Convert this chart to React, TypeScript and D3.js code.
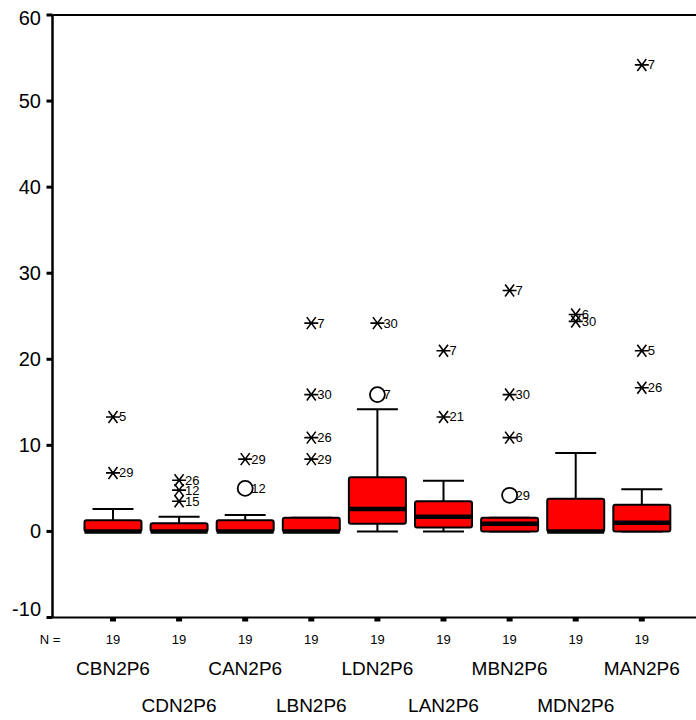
import React from 'react';
import * as d3 from 'd3';

// box statistics per variable
const categories = ['CBN2P6', 'CDN2P6', 'CAN2P6', 'LBN2P6', 'LDN2P6', 'LAN2P6', 'MBN2P6', 'MDN2P6', 'MAN2P6'];
const nValues = [19, 19, 19, 19, 19, 19, 19, 19, 19];
const whiskerLow = [0, 0, 0, 0, 0, 0, 0, 0, 0];
const q1 = [0, 0, 0, 0, 0.9, 0.45, 0, 0, 0];
const medians = [0, 0, 0, 0, 2.6, 1.7, 0.9, 0, 1.0];
const q3 = [1.3, 0.95, 1.3, 1.6, 6.3, 3.5, 1.6, 3.8, 3.1];
const whiskerHigh = [2.6, 1.7, 1.9, 1.6, 14.2, 5.9, 1.6, 9.1, 4.9];

// extreme values (star) : [variable, value, case id]
const extremes: [string, number, string][] = [
  ['CBN2P6', 13.3, '5'],
  ['CBN2P6', 6.8, '29'],
  ['CDN2P6', 5.95, '26'],
  ['CDN2P6', 4.8, '12'],
  ['CDN2P6', 3.5, '15'],
  ['CAN2P6', 8.4, '29'],
  ['LBN2P6', 24.2, '7'],
  ['LBN2P6', 15.9, '30'],
  ['LBN2P6', 10.9, '26'],
  ['LBN2P6', 8.4, '29'],
  ['LDN2P6', 24.2, '30'],
  ['LAN2P6', 21.0, '7'],
  ['LAN2P6', 13.3, '21'],
  ['MBN2P6', 28.0, '7'],
  ['MBN2P6', 15.9, '30'],
  ['MBN2P6', 10.9, '6'],
  ['MDN2P6', 25.2, '6'],
  ['MDN2P6', 24.4, '30'],
  ['MAN2P6', 54.2, '7'],
  ['MAN2P6', 21.0, '5'],
  ['MAN2P6', 16.7, '26'],
];

// outliers (circle)
const outliers: [string, number, string][] = [
  ['CAN2P6', 5.0, '12'],
  ['LDN2P6', 15.9, '7'],
  ['MBN2P6', 4.2, '29'],
];

const yTicks = [-10, 0, 10, 20, 30, 40, 50, 60];

const width = 696;
const height = 720;
const left = 52.5;
const top = 15;
const bottom = 617.5;
const font = '"Liberation Sans", Arial, sans-serif';

const App = () => {
  const x = d3.scalePoint<string>().domain(categories).range([left, 702.3]).padding(0.915);
  const y = d3.scaleLinear().domain([-10, 60]).range([bottom, top]);

  const boxW = 57;
  const capW = 41;

  const star = (cx: number, cy: number) =>
    `M${cx - 7},${cy}L${cx + 7},${cy}M${cx - 4.5},${cy - 6}L${cx + 4.5},${cy + 6}M${cx - 4.5},${cy + 6}L${cx + 4.5},${cy - 6}`;

  return (
    <svg
      width={width}
      height={height}
      style={{ position: 'absolute', left: 0, top: 0, background: '#fff' }}
      fontFamily={font}
    >
      {/* frame */}
      <line x1={left} x2={width} y1={top} y2={top} stroke="#000" strokeWidth={2} />
      <line x1={left} x2={width} y1={bottom} y2={bottom} stroke="#000" strokeWidth={2} />
      <line x1={left} x2={left} y1={top} y2={bottom} stroke="#000" strokeWidth={2.5} />

      {/* y axis */}
      {yTicks.map((t) => {
        const ty = y(t);
        const ly = Math.min(Math.max(ty, top + 3), bottom - 9);
        return (
          <g key={t}>
            <rect x={left - 6} y={ty - 1.5} width={6} height={3} fill="#000" />
            <text x={41} y={ly} textAnchor="end" dominantBaseline="central" fontSize={20}>
              {t}
            </text>
          </g>
        );
      })}

      {/* boxes */}
      {categories.map((c, i) => {
        const cx = x(c)!;
        return (
          <g key={c}>
            <line x1={cx} x2={cx} y1={y(whiskerHigh[i])} y2={y(q3[i])} stroke="#000" strokeWidth={2} />
            <line x1={cx} x2={cx} y1={y(whiskerLow[i])} y2={y(q1[i])} stroke="#000" strokeWidth={2} />
            <line x1={cx - capW / 2} x2={cx + capW / 2} y1={y(whiskerHigh[i])} y2={y(whiskerHigh[i])} stroke="#000" strokeWidth={2} />
            <line x1={cx - capW / 2} x2={cx + capW / 2} y1={y(whiskerLow[i])} y2={y(whiskerLow[i])} stroke="#000" strokeWidth={2} />
            <rect
              x={cx - boxW / 2}
              y={y(q3[i])}
              width={boxW}
              height={y(q1[i]) - y(q3[i])}
              fill="#ff0000"
              stroke="#000"
              strokeWidth={2}
              rx={2}
            />
            <line x1={cx - boxW / 2} x2={cx + boxW / 2} y1={y(medians[i])} y2={y(medians[i])} stroke="#000" strokeWidth={4.5} />
            {/* x tick */}
            <rect x={cx - 3} y={bottom} width={6} height={4} fill="#000" />
            <text x={cx} y={639} textAnchor="middle" dominantBaseline="central" fontSize={13}>
              {nValues[i]}
            </text>
            <text
              x={cx}
              y={i % 2 === 0 ? 668 : 705}
              textAnchor="middle"
              dominantBaseline="central"
              fontSize={19}
            >
              {c}
            </text>
          </g>
        );
      })}
      <text x={50} y={639} textAnchor="middle" dominantBaseline="central" fontSize={13}>
        N =
      </text>

      {/* extremes */}
      {extremes.map(([c, v, id], k) => {
        const cx = x(c)!;
        const cy = y(v);
        return (
          <g key={'e' + k}>
            <path d={star(cx, cy)} stroke="#000" strokeWidth={1.6} fill="none" />
            <text x={cx + 6} y={cy} dominantBaseline="central" fontSize={13}>
              {id}
            </text>
          </g>
        );
      })}

      {/* outliers */}
      {outliers.map(([c, v, id], k) => {
        const cx = x(c)!;
        const cy = y(v);
        return (
          <g key={'o' + k}>
            <circle cx={cx} cy={cy} r={7.5} fill="none" stroke="#000" strokeWidth={1.8} />
            <text x={cx + 6} y={cy} dominantBaseline="central" fontSize={13}>
              {id}
            </text>
          </g>
        );
      })}
    </svg>
  );
};

export default App;
